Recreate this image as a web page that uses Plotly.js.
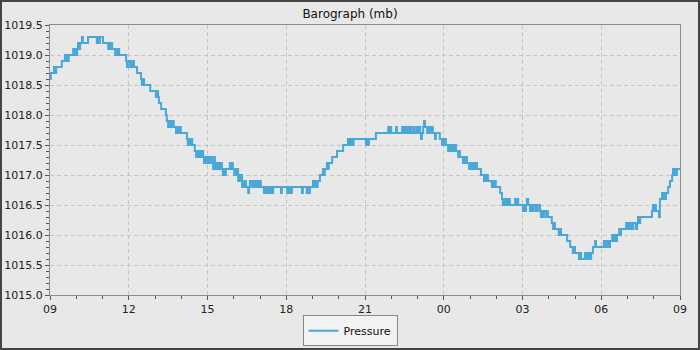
<!DOCTYPE html>
<html>
<head>
<meta charset="utf-8">
<script src="https://cdn.plot.ly/plotly-3.0.1.min.js"></script>
<style>
  html, body { margin: 0; padding: 0; background: #e8e8e8; }
  #frame { width: 700px; height: 350px; box-sizing: border-box; border: 2px solid #444444; background: #e8e8e8; }
  #chart { width: 696px; height: 346px; }
</style>
</head>
<body>
<div id="frame"><div id="chart"></div></div>
<script>
// Start of the record and readings (minutes after start, pressure in mb)
const startTime = "2024-03-09T09:00:00Z";
const seriesName = "Pressure";
const chartTitle = "Barograph (mb)";

const minutes = [
  0, 2, 9, 11, 14, 27, 34, 37, 39, 41,
  43, 53, 55, 57, 59, 62, 64, 66, 69, 73,
  75, 87, 107, 110, 112, 114, 121, 133, 135, 137,
  139, 142, 149, 151, 153, 155, 158, 174, 176, 178,
  183, 185, 187, 190, 192, 199, 208, 210, 213, 215,
  229, 242, 245, 247, 249, 254, 265, 267, 270, 272,
  274, 277, 279, 281, 283, 288, 290, 293, 295, 299,
  313, 315, 318, 320, 322, 325, 331, 334, 336, 338,
  341, 343, 347, 350, 352, 354, 357, 359, 361, 363,
  366, 368, 370, 373, 375, 377, 379, 382, 384, 386,
  389, 391, 393, 395, 398, 400, 402, 411, 414, 416,
  418, 421, 423, 425, 427, 430, 432, 434, 437, 439,
  441, 443, 446, 448, 453, 455, 457, 462, 464, 468,
  471, 475, 478, 482, 489, 491, 494, 498, 501, 505,
  507, 510, 528, 530, 542, 544, 546, 550, 551, 553,
  576, 578, 587, 589, 591, 594, 601, 603, 606, 610,
  612, 617, 624, 626, 628, 633, 635, 637, 645, 656,
  670, 681, 683, 686, 688, 690, 692, 694, 722, 724,
  727, 729, 745, 773, 775, 778, 780, 791, 793, 805,
  807, 809, 811, 814, 818, 821, 825, 830, 832, 837,
  841, 843, 846, 848, 850, 853, 855, 857, 862, 864,
  866, 868, 871, 873, 875, 880, 882, 891, 896, 898,
  900, 903, 905, 910, 912, 914, 917, 919, 921, 923,
  926, 928, 933, 935, 937, 944, 946, 949, 951, 953,
  958, 960, 962, 965, 967, 969, 971, 974, 976, 985,
  992, 994, 996, 999, 1001, 1010, 1012, 1015, 1017, 1019,
  1029, 1033, 1035, 1038, 1040, 1042, 1045, 1049, 1051, 1063,
  1065, 1067, 1070, 1081, 1083, 1086, 1088, 1090, 1093, 1097,
  1099, 1102, 1104, 1109, 1111, 1113, 1115, 1120, 1122, 1125,
  1127, 1129, 1134, 1136, 1138, 1147, 1150, 1152, 1154, 1163,
  1166, 1168, 1182, 1189, 1195, 1198, 1200, 1209, 1211, 1214,
  1223, 1225, 1227, 1230, 1232, 1234, 1237, 1241, 1246, 1248,
  1266, 1269, 1271, 1273, 1275, 1278, 1280, 1285, 1287, 1291,
  1294, 1296, 1301, 1303, 1305, 1317, 1319, 1323, 1326, 1328,
  1330, 1333, 1339, 1342, 1344, 1346, 1349, 1376, 1378, 1381,
  1383, 1385, 1392, 1394, 1399, 1401, 1404, 1406, 1408, 1413,
  1417, 1422, 1424, 1426, 1428, 1431, 1433, 1440
];

const pressure = [
  1018.6, 1018.7, 1018.8, 1018.7, 1018.8, 1018.9, 1019.0, 1018.9, 1019.0, 1018.9,
  1019.0, 1019.1, 1019.0, 1019.1, 1019.0, 1019.1, 1019.2, 1019.1, 1019.2, 1019.3,
  1019.2, 1019.3, 1019.2, 1019.3, 1019.2, 1019.3, 1019.2, 1019.1, 1019.2, 1019.1,
  1019.2, 1019.1, 1019.0, 1019.1, 1019.0, 1019.1, 1019.0, 1018.9, 1018.8, 1018.9,
  1018.8, 1018.9, 1018.8, 1018.9, 1018.8, 1018.7, 1018.6, 1018.5, 1018.6, 1018.5,
  1018.4, 1018.3, 1018.4, 1018.3, 1018.2, 1018.1, 1018.0, 1017.9, 1017.8, 1017.9,
  1017.8, 1017.9, 1017.8, 1017.9, 1017.8, 1017.7, 1017.8, 1017.7, 1017.8, 1017.7,
  1017.6, 1017.5, 1017.6, 1017.5, 1017.6, 1017.5, 1017.4, 1017.3, 1017.4, 1017.3,
  1017.4, 1017.3, 1017.4, 1017.3, 1017.2, 1017.3, 1017.2, 1017.3, 1017.2, 1017.3,
  1017.2, 1017.3, 1017.2, 1017.1, 1017.3, 1017.2, 1017.1, 1017.2, 1017.1, 1017.2,
  1017.1, 1017.2, 1017.1, 1017.0, 1017.1, 1017.0, 1017.1, 1017.2, 1017.1, 1017.2,
  1017.1, 1017.0, 1017.1, 1017.0, 1017.1, 1016.9, 1017.0, 1016.9, 1017.0, 1016.8,
  1016.9, 1016.8, 1016.9, 1016.8, 1016.7, 1016.8, 1016.9, 1016.8, 1016.9, 1016.8,
  1016.9, 1016.8, 1016.9, 1016.8, 1016.7, 1016.8, 1016.7, 1016.8, 1016.7, 1016.8,
  1016.7, 1016.8, 1016.7, 1016.8, 1016.7, 1016.8, 1016.7, 1016.8, 1016.7, 1016.8,
  1016.7, 1016.8, 1016.7, 1016.8, 1016.7, 1016.8, 1016.9, 1016.8, 1016.9, 1016.8,
  1016.9, 1017.0, 1017.1, 1017.0, 1017.1, 1017.2, 1017.1, 1017.2, 1017.3, 1017.4,
  1017.5, 1017.6, 1017.5, 1017.6, 1017.5, 1017.6, 1017.5, 1017.6, 1017.5, 1017.6,
  1017.5, 1017.6, 1017.7, 1017.8, 1017.7, 1017.8, 1017.7, 1017.8, 1017.7, 1017.8,
  1017.7, 1017.8, 1017.7, 1017.8, 1017.7, 1017.8, 1017.7, 1017.8, 1017.7, 1017.8,
  1017.7, 1017.8, 1017.7, 1017.6, 1017.7, 1017.8, 1017.9, 1017.8, 1017.7, 1017.8,
  1017.7, 1017.8, 1017.7, 1017.8, 1017.7, 1017.6, 1017.7, 1017.6, 1017.5, 1017.6,
  1017.5, 1017.6, 1017.5, 1017.4, 1017.5, 1017.4, 1017.5, 1017.4, 1017.5, 1017.4,
  1017.5, 1017.4, 1017.3, 1017.4, 1017.3, 1017.2, 1017.3, 1017.2, 1017.3, 1017.2,
  1017.1, 1017.2, 1017.1, 1017.2, 1017.1, 1017.2, 1017.1, 1017.2, 1017.1, 1017.0,
  1016.9, 1017.0, 1016.9, 1017.0, 1016.9, 1016.8, 1016.9, 1016.8, 1016.9, 1016.8,
  1016.7, 1016.6, 1016.5, 1016.6, 1016.5, 1016.6, 1016.5, 1016.6, 1016.5, 1016.6,
  1016.5, 1016.6, 1016.5, 1016.4, 1016.5, 1016.4, 1016.5, 1016.6, 1016.5, 1016.4,
  1016.5, 1016.4, 1016.5, 1016.4, 1016.5, 1016.4, 1016.5, 1016.4, 1016.3, 1016.4,
  1016.3, 1016.4, 1016.3, 1016.4, 1016.3, 1016.2, 1016.1, 1016.2, 1016.1, 1016.0,
  1016.1, 1016.0, 1015.9, 1015.8, 1015.7, 1015.8, 1015.7, 1015.6, 1015.7, 1015.6,
  1015.7, 1015.6, 1015.7, 1015.6, 1015.7, 1015.6, 1015.7, 1015.8, 1015.9, 1015.8,
  1015.9, 1015.8, 1015.9, 1015.8, 1015.9, 1015.8, 1015.9, 1016.0, 1015.9, 1016.0,
  1015.9, 1016.0, 1016.1, 1016.0, 1016.1, 1016.2, 1016.1, 1016.2, 1016.1, 1016.2,
  1016.1, 1016.2, 1016.1, 1016.2, 1016.3, 1016.2, 1016.3, 1016.4, 1016.5, 1016.4,
  1016.5, 1016.4, 1016.3, 1016.6, 1016.7, 1016.6, 1016.7, 1016.6, 1016.7, 1016.8,
  1016.9, 1017.0, 1017.1, 1017.0, 1017.1, 1017.0, 1017.1, 1017.1
];

const yRange = [1015.0, 1019.5];
const xTickLabelsEvery = 3; // hours

const t0 = Date.parse(startTime);
const toStr = ms => new Date(ms).toISOString().slice(0, 19).replace('T', ' ');
const times = minutes.map(m => toStr(t0 + m * 60000));
const xStart = toStr(t0);
const xEnd = toStr(t0 + 24 * 3600000);

const font = "DejaVu Sans, Verdana, sans-serif";

const trace = {
  type: 'scatter',
  mode: 'lines',
  name: seriesName,
  x: times,
  y: pressure,
  line: { color: '#4aa8d8', width: 2, shape: 'hv' },
  hoverinfo: 'x+y'
};

const layout = {
  width: 696,
  height: 346,
  margin: { l: 48, r: 18, t: 23, b: 53, pad: 0, autoexpand: false },
  paper_bgcolor: '#e8e8e8',
  plot_bgcolor: '#e8e8e8',
  font: { family: font, size: 11, color: '#222222' },
  title: {
    text: chartTitle,
    font: { family: font, size: 12, color: '#111111' },
    x: 0.5, xref: 'container',
    y: 0.965, yref: 'container', yanchor: 'middle'
  },
  showlegend: true,
  legend: {
    orientation: 'h',
    xref: 'container',
    x: 0.5, xanchor: 'center',
    y: -0.19, yanchor: 'bottom',
    bgcolor: '#f2f2f2',
    bordercolor: '#888888',
    borderwidth: 1,
    font: { family: font, size: 11, color: '#111111' },
    itemwidth: 30
  },
  xaxis: {
    type: 'date',
    range: [xStart, xEnd],
    tickformat: '%H',
    dtick: xTickLabelsEvery * 3600000,
    ticks: 'outside',
    ticklen: 4,
    tickcolor: '#555555',
    tickfont: { family: font, size: 11, color: '#222222' },
    showline: true,
    linecolor: '#8c8c8c',
    linewidth: 1,
    mirror: true,
    showgrid: true,
    gridcolor: '#c4c4c4',
    griddash: '4px,3px',
    gridwidth: 1,
    zeroline: false,
    minor: { dtick: 3600000, ticks: 'outside', ticklen: 3, tickcolor: '#555555', showgrid: false },
    fixedrange: true
  },
  yaxis: {
    range: yRange,
    dtick: 0.5,
    tickformat: '.1f',
    ticks: 'outside',
    ticklen: 4,
    tickcolor: '#555555',
    tickfont: { family: font, size: 11, color: '#222222' },
    showline: true,
    linecolor: '#8c8c8c',
    linewidth: 1,
    mirror: true,
    showgrid: true,
    gridcolor: '#c4c4c4',
    griddash: '4px,3px',
    gridwidth: 1,
    zeroline: false,
    minor: { dtick: 0.1, ticks: 'outside', ticklen: 3, tickcolor: '#555555', showgrid: false },
    fixedrange: true
  }
};

Plotly.newPlot('chart', [trace], layout, { displayModeBar: false, staticPlot: true });
</script>
</body>
</html>
